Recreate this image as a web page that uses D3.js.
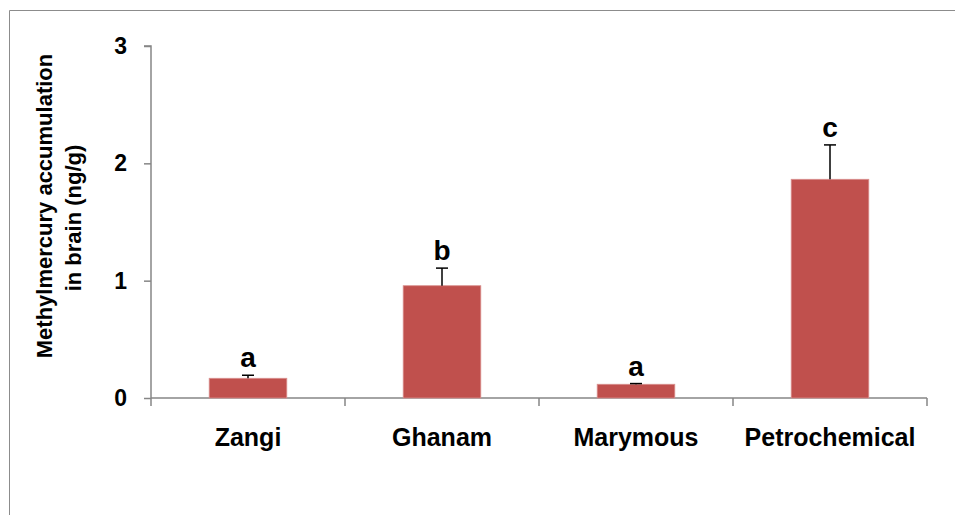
<!DOCTYPE html>
<html>
<head>
<meta charset="utf-8">
<script src="https://cdn.jsdelivr.net/npm/d3@7"></script>
<style>
  body { margin: 0; background: #fff; }
  svg { display: block; font-family: "Liberation Sans", Arial, sans-serif; font-weight: bold; }
</style>
</head>
<body>
<svg id="chart" width="955" height="515"></svg>
<script>
const sites = ["Zangi", "Ghanam", "Marymous", "Petrochemical"];
const meanValues = [0.168, 0.957, 0.117, 1.864];
const errorValues = [0.026, 0.15, 0.006, 0.293];
const groupLetters = ["a", "b", "a", "c"];
const yTicks = [0, 1, 2, 3];

const margin = { top: 46, right: 28, bottom: 117, left: 151 };
const W = 955, H = 515;
const width = W - margin.left - margin.right;
const height = H - margin.top - margin.bottom;
const axisColor = "#868686";

let svg = d3.select("#chart");

// outer chart frame (only top + left edge visible)
svg.append("path")
  .attr("d", "M9.5," + H + "V10.5H" + W)
  .attr("fill", "none")
  .attr("stroke", "#8c8c8c")
  .attr("stroke-width", 1);

const g = svg.append("g")
  .attr("transform", "translate(" + margin.left + "," + margin.top + ")");

const x = d3.scaleBand()
  .domain(sites)
  .range([0, width])
  .paddingInner(0.6)
  .paddingOuter(0.3);

const y = d3.scaleLinear().domain([0, 3]).range([height, 0]);

// y axis
const yAxis = g.append("g")
  .call(d3.axisLeft(y).tickValues(yTicks).tickSize(7).tickPadding(17).tickFormat(d3.format("d")));
yAxis.selectAll("path, line").attr("stroke", axisColor).attr("stroke-width", 1.5);
yAxis.select(".domain").attr("d", "M-7," + y(3) + "H0V" + y(0));
yAxis.selectAll("text")
  .attr("fill", "#000")
  .style("font-size", "23px")
  .style("font-family", "Liberation Sans, Arial, sans-serif")
  .style("font-weight", "bold");

// x axis: labels centred on bands, ticks on the band boundaries
const xAxis = g.append("g")
  .attr("transform", "translate(0," + height + ")")
  .call(d3.axisBottom(x).tickSize(0).tickPadding(30));
xAxis.select(".domain").attr("stroke", axisColor).attr("stroke-width", 1.5)
  .attr("d", "M0,0H" + width);
xAxis.selectAll("text")
  .attr("fill", "#000")
  .style("font-size", "25px")
  .style("font-family", "Liberation Sans, Arial, sans-serif")
  .style("font-weight", "bold");

const boundaries = d3.range(sites.length + 1).map(i => i * x.step());
xAxis.selectAll(".bound")
  .data(boundaries)
  .enter()
  .append("line")
  .attr("class", "bound")
  .attr("x1", d => d).attr("x2", d => d)
  .attr("y1", 0).attr("y2", 8)
  .attr("stroke", axisColor)
  .attr("stroke-width", 1.5);

// bars
g.selectAll(".bar")
  .data(sites)
  .enter()
  .append("rect")
  .attr("class", "bar")
  .attr("x", d => x(d))
  .attr("y", (d, i) => y(meanValues[i]))
  .attr("width", x.bandwidth())
  .attr("height", (d, i) => y(0) - y(meanValues[i]))
  .attr("fill", "#C0504D")
  .attr("stroke", "#d9908e")
  .attr("stroke-width", 0.8);

// error bars (upper only)
const errG = g.selectAll(".err")
  .data(sites)
  .enter()
  .append("g")
  .attr("class", "err")
  .attr("transform", d => "translate(" + (x(d) + x.bandwidth() / 2) + ",0)");

errG.append("line")
  .attr("y1", (d, i) => y(meanValues[i]))
  .attr("y2", (d, i) => y(meanValues[i] + errorValues[i]))
  .attr("stroke", "#000")
  .attr("stroke-width", 1.5);

errG.append("line")
  .attr("x1", -6).attr("x2", 6)
  .attr("y1", (d, i) => y(meanValues[i] + errorValues[i]))
  .attr("y2", (d, i) => y(meanValues[i] + errorValues[i]))
  .attr("stroke", "#000")
  .attr("stroke-width", 1.5);

// significance letters
errG.append("text")
  .attr("text-anchor", "middle")
  .attr("y", (d, i) => y(meanValues[i] + errorValues[i]) - 8)
  .style("font-size", "28px")
  .text((d, i) => groupLetters[i]);

// y axis title
const title = svg.append("text")
  .attr("transform", "translate(52,206) rotate(-90)")
  .attr("text-anchor", "middle")
  .style("font-size", "22px");
title.append("tspan").attr("x", 0).attr("y", 0).text("Methylmercury accumulation");
title.append("tspan").attr("x", -12).attr("y", 29).text("in brain (ng/g)");
</script>
</body>
</html>
